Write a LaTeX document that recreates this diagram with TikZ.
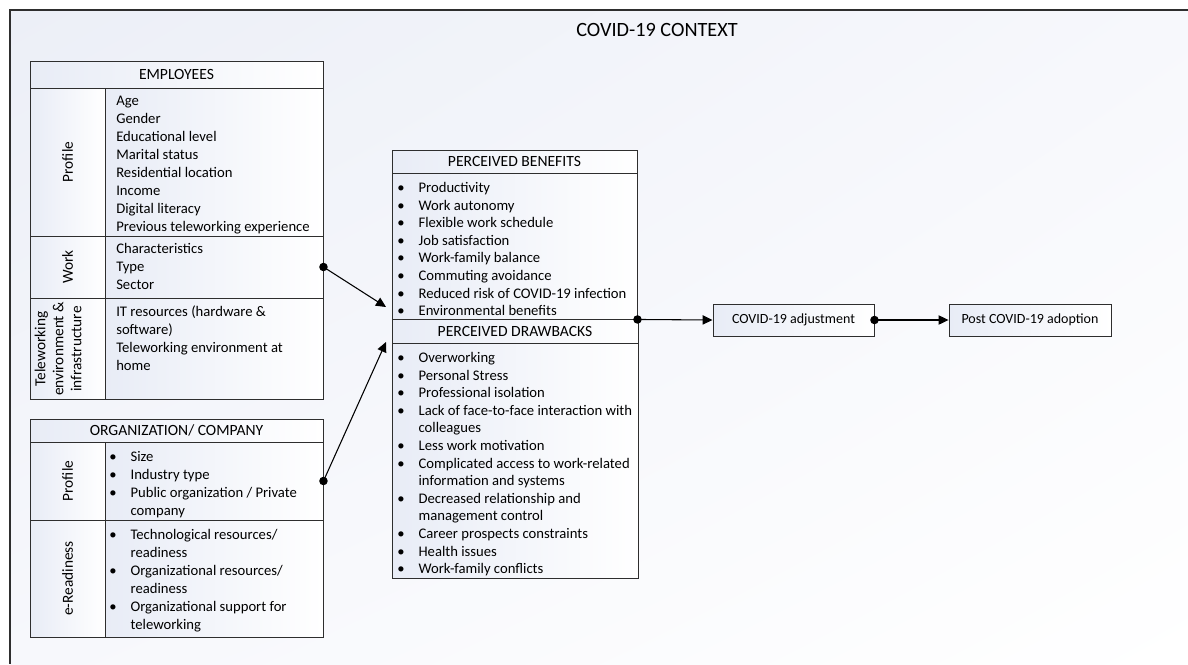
\documentclass[tikz,border=0pt]{standalone}
\usepackage{fontspec}
\setmainfont{Carlito}
\usetikzlibrary{arrows.meta,fit,shadings}
\definecolor{bgA}{HTML}{ECEFF7}
\definecolor{bgB}{HTML}{F7F8FC}
\definecolor{cellA}{HTML}{E8ECF6}
\definecolor{edge}{HTML}{2E2E2E}
\newcommand\bu[1]{\strut\makebox[16pt][l]{•}#1}
\newcommand\bc[1]{\strut\hspace{16pt}#1}
\newcommand\pl[1]{\strut#1}
\tikzset{
  cell/.style={draw=edge, line width=0.7pt, inner sep=0pt, left color=cellA, right color=white},
  plain/.style={font=\fontsize{11}{13.2}\selectfont, inner sep=0pt},
  head/.style={font=\fontsize{11.7}{14}\selectfont, inner sep=0pt},
  outtext/.style={font=\fontsize{10.5}{13}\selectfont, inner sep=0pt},
  listtext/.style={plain, anchor=north west, align=left},
  widelist/.style={listtext, font=\fontsize{11}{13.5}\selectfont},
  vlabel/.style={font=\fontsize{11.5}{13.5}\selectfont, inner sep=0pt, rotate=90, align=center},
  conn/.style={draw=black, line width=0.8pt, -{Triangle[length=7.5pt,width=7pt]}},
  dot/.style={fill=black}
}
\begin{document}
\begin{tikzpicture}[x=0.75pt,y=-0.75pt]
\useasboundingbox (0,0) rectangle (1188,664);
\shade[upper left=bgA, upper right=bgB, lower left=bgB, lower right=white] (10,10) rectangle (1188,664);
\draw[line width=1.1pt, draw=edge] (1188,10) -- (10,10) -- (10,664);
\node[inner sep=0pt, font=\fontsize{15.2}{18}\selectfont] (title) at (657,30) {COVID-19 CONTEXT};

% Employees table
\node[cell, fit={(30,61) (323,88)}] (emphead) {};
\node[head] (emphtxt) at (emphead.center) {EMPLOYEES};
\node[cell, fit={(30,88) (105,236)}] (emplab1) {};
\node[cell, fit={(105,88) (323,236)}] (empcont1) {};
\node[cell, fit={(30,236) (105,298)}] (emplab2) {};
\node[cell, fit={(105,236) (323,298)}] (empcont2) {};
\node[cell, fit={(30,298) (105,399)}] (emplab3) {};
\node[cell, fit={(105,298) (323,399)}] (empcont3) {};
\node[vlabel] (l1) at (emplab1.center) {Profile};
\node[vlabel] (l2) at (emplab2.center) {Work};
\node[vlabel] (l3) at (58,349) {Teleworking\\environment \&\\infrastructure};
\node[widelist] (t1) at (116,93) {\pl{Age}\\\pl{Gender}\\\pl{Educational level}\\\pl{Marital status}\\\pl{Residential location}\\\pl{Income}\\\pl{Digital literacy}\\\pl{Previous teleworking experience}};
\node[widelist] (t2) at (116,241) {\pl{Characteristics}\\\pl{Type}\\\pl{Sector}};
\node[widelist] (t3) at (116,304) {\pl{IT resources (hardware \&}\\\pl{software)}\\\pl{Teleworking environment at}\\\pl{home}};

% Organization table
\node[cell, fit={(30,419) (323,442)}] (orghead) {};
\node[head] (orghtxt) at (orghead.center) {ORGANIZATION/ COMPANY};
\node[cell, fit={(30,442) (105,520)}] (orglab1) {};
\node[cell, fit={(105,442) (323,520)}] (orgcont1) {};
\node[cell, fit={(30,520) (105,637)}] (orglab2) {};
\node[cell, fit={(105,520) (323,637)}] (orgcont2) {};
\node[vlabel] (l4) at (orglab1.center) {Profile};
\node[vlabel] (l5) at (orglab2.center) {e-Readiness};
\node[widelist] (t4) at (109,449) {\bu{Size}\\\bu{Industry type}\\\bu{Public organization / Private}\\\bc{company}};
\node[widelist] (t5) at (109,527) {\bu{Technological resources/}\\\bc{readiness}\\\bu{Organizational resources/}\\\bc{readiness}\\\bu{Organizational support for}\\\bc{teleworking}};

% Benefits / drawbacks
\node[cell, fit={(392,150) (637,173)}] (benhead) {};
\node[head] (benhtxt) at (benhead.center) {PERCEIVED BENEFITS};
\node[cell, fit={(392,173) (637,319)}] (benbody) {};
\node[listtext] (t6) at (397,180) {\bu{Productivity}\\\bu{Work autonomy}\\\bu{Flexible work schedule}\\\bu{Job satisfaction}\\\bu{Work-family balance}\\\bu{Commuting avoidance}\\\bu{Reduced risk of COVID-19 infection}\\\bu{Environmental benefits}};
\node[cell, fit={(392,319) (638,343)}] (drwhead) {};
\node[head] (drwhtxt) at (drwhead.center) {PERCEIVED DRAWBACKS};
\node[cell, fit={(392,343) (638,578)}] (drwbody) {};
\node[listtext] (t7) at (397,350) {\bu{Overworking}\\\bu{Personal Stress}\\\bu{Professional isolation}\\\bu{Lack of face-to-face interaction with}\\\bc{colleagues}\\\bu{Less work motivation}\\\bu{Complicated access to work-related}\\\bc{information and systems}\\\bu{Decreased relationship and}\\\bc{management control}\\\bu{Career prospects constraints}\\\bu{Health issues}\\\bu{Work-family conflicts}};

% Outcome boxes
\node[cell, fit={(713,304) (874,336)}] (adj) {};
\node[outtext] (adjtxt) at (adj.center) {COVID-19 adjustment};
\node[cell, fit={(949,304) (1111,336)}] (post) {};
\node[outtext] (posttxt) at (post.center) {Post COVID-19 adoption};

% Connectors
\coordinate (in1) at (386,307);
\coordinate (in2) at (386,342);
\draw[conn] (empcont2.east) -- (in1);
\draw[conn] (orgcont1.east) -- (in2);
\draw[conn] (benbody.south east) -- (adj.west);
\draw[conn] (adj.east) -- (post.west);
\fill[dot] (empcont2.east) circle[radius=3.2pt];
\fill[dot] (orgcont1.east) circle[radius=3.2pt];
\fill[dot] (benbody.south east) circle[radius=3.2pt];
\fill[dot] (adj.east) circle[radius=3.2pt];
\end{tikzpicture}
\end{document}
